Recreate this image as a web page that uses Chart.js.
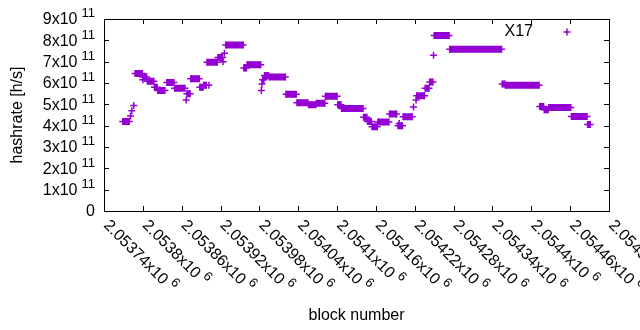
<!DOCTYPE html>
<html>
<head>
<meta charset="utf-8">
<script src="https://cdn.jsdelivr.net/npm/chart.js@4.4.1/dist/chart.umd.min.js"></script>
<style>
    html, body { margin: 0; padding: 0; background: #fff; }
    #wrap { width: 640px; height: 330px; }
</style>
</head>
<body>
<div id="wrap"><canvas id="hashChart" width="640" height="330"></canvas></div>
<script>
// runs of blocks with (nearly) the same hashrate
const runStart = [2053769, 2053788, 2053800, 2053807, 2053818, 2053823, 2053837, 2053849, 2053868, 2053874,
    2053888, 2053894, 2053899, 2053916, 2053928, 2053956, 2053961, 2053985, 2053988, 2053995,
    2054021, 2054038, 2054056, 2054068, 2054082, 2054101, 2054107, 2054141, 2054147, 2054154,
    2054163, 2054181, 2054194, 2054202, 2054223, 2054236, 2054243, 2054250, 2054274, 2054355,
    2054360, 2054413, 2054420, 2054427, 2054462, 2054487];
const runEnd = [2053779, 2053799, 2053806, 2053817, 2053822, 2053834, 2053848, 2053865, 2053873, 2053887,
    2053893, 2053898, 2053915, 2053923, 2053955, 2053960, 2053982, 2053987, 2053994, 2054020,
    2054037, 2054055, 2054067, 2054081, 2054100, 2054106, 2054140, 2054146, 2054153, 2054162,
    2054180, 2054192, 2054201, 2054216, 2054235, 2054242, 2054248, 2054273, 2054354, 2054359,
    2054412, 2054419, 2054426, 2054461, 2054486, 2054491];
const runValue = [4.20e11, 6.45e11, 6.28e11, 6.08e11, 5.80e11, 5.65e11, 6.02e11, 5.75e11, 5.50e11, 6.20e11,
    5.80e11, 5.90e11, 6.97e11, 7.20e11, 7.78e11, 6.70e11, 6.85e11, 6.15e11, 6.35e11, 6.28e11,
    5.47e11, 5.08e11, 4.98e11, 5.05e11, 5.38e11, 4.98e11, 4.80e11, 4.40e11, 4.20e11, 3.95e11,
    4.17e11, 4.55e11, 4.00e11, 4.42e11, 5.40e11, 5.75e11, 6.05e11, 8.23e11, 7.58e11, 5.95e11,
    5.90e11, 4.90e11, 4.75e11, 4.85e11, 4.43e11, 4.05e11];

// isolated blocks
const singleBlock = [2053781, 2053783, 2053786, 2053800, 2053867, 2053902, 2053924, 2053926, 2053983, 2053984,
    2054196, 2054218, 2054222, 2054249];
const singleValue = [4.45e11, 4.70e11, 4.95e11, 6.15e11, 5.20e11, 5.90e11, 7.00e11, 7.40e11, 5.65e11, 5.95e11,
    4.10e11, 4.87e11, 5.20e11, 7.30e11];

const seriesLabel = 'X17';

const xTicks = [2053740, 2053800, 2053860, 2053920, 2053980, 2054040, 2054100, 2054160, 2054220, 2054280,
    2054340, 2054400, 2054460, 2054520];
const xTickLabels = ['2.05374', '2.0538', '2.05386', '2.05392', '2.05398', '2.05404', '2.0541', '2.05416',
    '2.05422', '2.05428', '2.05434', '2.0544', '2.05446', '2.05452'];
const xTickExp = '6';

const yTicks = [0, 1e11, 2e11, 3e11, 4e11, 5e11, 6e11, 7e11, 8e11, 9e11];
const yTickLabels = ['0', '1', '2', '3', '4', '5', '6', '7', '8', '9'];
const yTickExp = '11';

const PURPLE = '#9400d3';
const FONT_FAMILY = '"Liberation Sans", Arial, sans-serif';
const FONT_SIZE = 16;

// line pieces: start and end of each run, broken by a null point
const runPoints = [];
runStart.forEach((s, i) => {
    runPoints.push({ x: s, y: runValue[i] });
    runPoints.push({ x: runEnd[i], y: runValue[i] });
    runPoints.push({ x: runEnd[i], y: null });
});
const singlePoints = singleBlock.map((b, i) => ({ x: b, y: singleValue[i] }));

function drawSci(ctx, base, exp, x, y, align) {
    // text like 9x10^11, exponent raised and smaller
    const big = `${FONT_SIZE}px ${FONT_FAMILY}`;
    const small = `${Math.round(FONT_SIZE * 0.8)}px ${FONT_FAMILY}`;
    ctx.font = big;
    const wBase = ctx.measureText(base).width;
    ctx.font = small;
    const gap = exp ? 4 : 0;
    const wExp = exp ? ctx.measureText(exp).width : 0;
    const total = wBase + gap + wExp;
    const x0 = align === 'right' ? x - total : x;
    ctx.textAlign = 'left';
    ctx.font = big;
    ctx.fillText(base, x0, y);
    if (exp) {
        ctx.font = small;
        ctx.fillText(exp, x0 + wBase + gap, y - FONT_SIZE * 0.4);
    }
}

const gnuplotFrame = {
    id: 'gnuplotFrame',
    afterDraw(chart) {
        const { ctx, chartArea: a, scales: { x, y } } = chart;
        const tick = 5;
        ctx.save();
        ctx.strokeStyle = '#000';
        ctx.fillStyle = '#000';
        ctx.lineWidth = 1;
        ctx.strokeRect(Math.round(a.left) + 0.5, Math.round(a.top) + 0.5,
            Math.round(a.right - a.left), Math.round(a.bottom - a.top));

        ctx.beginPath();
        yTicks.forEach(v => {
            const py = Math.round(y.getPixelForValue(v)) + 0.5;
            ctx.moveTo(a.left, py); ctx.lineTo(a.left + tick, py);
            ctx.moveTo(a.right, py); ctx.lineTo(a.right - tick, py);
        });
        xTicks.forEach(v => {
            const px = Math.round(x.getPixelForValue(v)) + 0.5;
            ctx.moveTo(px, a.bottom); ctx.lineTo(px, a.bottom - tick);
            ctx.moveTo(px, a.top); ctx.lineTo(px, a.top + tick);
        });
        ctx.stroke();

        // y tick labels
        ctx.fillStyle = '#000';
        ctx.textBaseline = 'middle';
        yTicks.forEach((v, i) => {
            const py = y.getPixelForValue(v);
            const base = v === 0 ? yTickLabels[i] : yTickLabels[i] + 'x10';
            drawSci(ctx, base, v === 0 ? '' : yTickExp, a.left - 9, py + 1, 'right');
        });

        // x tick labels, rotated by -45 like gnuplot
        xTicks.forEach((v, i) => {
            const px = x.getPixelForValue(v);
            ctx.save();
            ctx.translate(px + 2, a.bottom + 12);
            ctx.rotate(Math.PI / 4);
            drawSci(ctx, xTickLabels[i] + 'x10', xTickExp, 0, 0, 'left');
            ctx.restore();
        });

        // axis titles
        ctx.font = `${FONT_SIZE}px ${FONT_FAMILY}`;
        ctx.textAlign = 'center';
        ctx.fillText('block number', (a.left + a.right) / 2, 316);
        ctx.save();
        ctx.translate(18, (a.top + a.bottom) / 2);
        ctx.rotate(-Math.PI / 2);
        ctx.fillText('hashrate [h/s]', 0, 0);
        ctx.restore();

        // key
        ctx.textAlign = 'right';
        ctx.fillText(seriesLabel, 533, 32);
        ctx.strokeStyle = PURPLE;
        ctx.lineWidth = 1.5;
        ctx.beginPath();
        ctx.moveTo(563.5, 32); ctx.lineTo(570.5, 32);
        ctx.moveTo(567, 28.5); ctx.lineTo(567, 35.5);
        ctx.stroke();
        ctx.restore();
    }
};

new Chart(document.getElementById('hashChart'), {
    type: 'scatter',
    data: {
        datasets: [{
            label: seriesLabel,
            data: runPoints,
            showLine: true,
            spanGaps: false,
            borderColor: PURPLE,
            borderWidth: 7,
            borderCapStyle: 'butt',
            pointStyle: 'cross',
            pointRadius: 3.5,
            pointBorderWidth: 1.5,
            pointBorderColor: PURPLE,
            pointBackgroundColor: PURPLE
        }, {
            label: seriesLabel,
            data: singlePoints,
            showLine: false,
            pointStyle: 'cross',
            pointRadius: 3.5,
            pointBorderWidth: 1.5,
            pointBorderColor: PURPLE,
            pointBackgroundColor: PURPLE
        }]
    },
    options: {
        responsive: false,
        animation: false,
        devicePixelRatio: 1,
        layout: { padding: { left: 104, right: 31, top: 19, bottom: 119 } },
        plugins: {
            legend: { display: false },
            tooltip: { enabled: false }
        },
        scales: {
            x: { type: 'linear', display: false, min: 2053740, max: 2054520 },
            y: { type: 'linear', display: false, min: 0, max: 9e11 }
        }
    },
    plugins: [gnuplotFrame]
});
</script>
</body>
</html>
